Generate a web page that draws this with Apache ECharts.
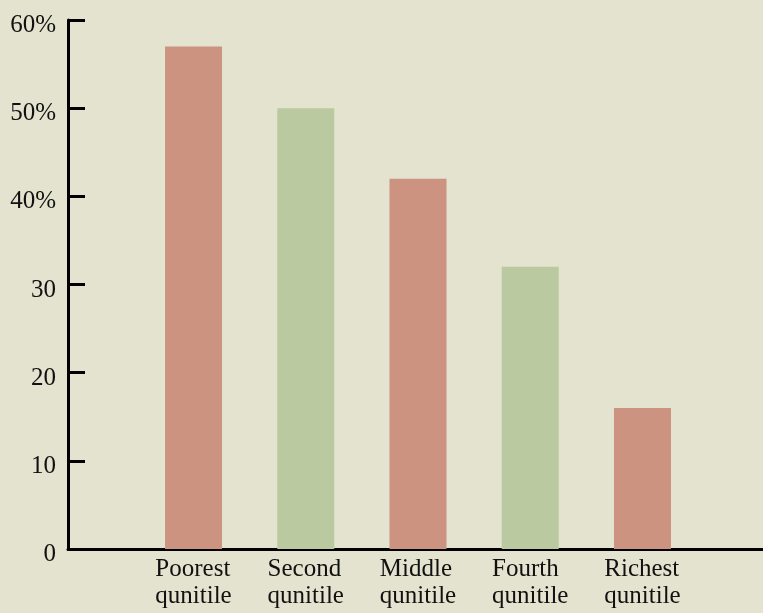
<!DOCTYPE html>
<html>
<head>
<meta charset="utf-8">
<script src="https://cdn.jsdelivr.net/npm/echarts@6/dist/echarts.min.js"></script>
<style>
  html, body { margin: 0; padding: 0; background: #e3e3cf; }
  #chart { width: 763px; height: 613px; }
</style>
</head>
<body>
<div id="chart"></div>
<script>
// Share of households by wealth quintile
const categories = ['Poorest\nqunitile', 'Second\nqunitile', 'Middle\nqunitile', 'Fourth\nqunitile', 'Richest\nqunitile'];
const values = [57, 50, 42, 32, 16];
const barColors = ['#cc9381', '#bac9a0', '#cc9381', '#bac9a0', '#cc9381'];
const yTickValues = [0, 10, 20, 30, 40, 50, 60];
const yTickLabels = ['0', '10', '20', '30', '40%', '50%', '60%'];

const FONT = '"Liberation Serif", "DejaVu Serif", serif';

const chart = echarts.init(document.getElementById('chart'));
chart.setOption({
  backgroundColor: '#e3e3cf',
  animation: false,
  grid: [
    { left: 137.4, right: 64.4, top: 20, bottom: 64 },
    { left: 68, right: 0, top: 20, bottom: 64 }
  ],
  xAxis: [
    {
      type: 'category',
      gridIndex: 0,
      data: categories,
      axisLine: { show: false },
      axisTick: { show: false },
      axisLabel: {
        interval: 0,
        margin: 7,
        formatter: function (v) {
          return v.split('\n').map(function (s) { return '{a|' + s + '}'; }).join('\n');
        },
        rich: {
          a: { fontFamily: FONT, fontSize: 25, lineHeight: 27, color: '#111', align: 'left' }
        }
      }
    },
    {
      type: 'value',
      gridIndex: 1,
      min: 0, max: 1,
      axisLine: { show: true, onZero: false, lineStyle: { color: '#000', width: 3 } },
      axisTick: { show: false },
      axisLabel: { show: false },
      splitLine: { show: false }
    }
  ],
  yAxis: [
    {
      type: 'value',
      gridIndex: 0,
      min: 0, max: 60, interval: 10,
      show: false,
      splitLine: { show: false }
    },
    {
      type: 'value',
      gridIndex: 1,
      min: 0, max: 60, interval: 10,
      axisLine: { show: true, lineStyle: { color: '#000', width: 3 } },
      axisTick: { show: true, inside: true, length: 17, lineStyle: { color: '#000', width: 3 } },
      splitLine: { show: false },
      axisLabel: {
        margin: 12,
        formatter: function (v) {
          const i = yTickValues.indexOf(v);
          return i >= 0 ? '{y|' + yTickLabels[i] + '}' : '';
        },
        rich: {
          y: { fontFamily: FONT, fontSize: 25, color: '#111', padding: [11, 0, 0, 0] }
        }
      }
    }
  ],
  series: [
    {
      type: 'bar',
      xAxisIndex: 0,
      yAxisIndex: 0,
      barWidth: 57,
      data: values.map(function (v, i) {
        return { value: v, itemStyle: { color: barColors[i] } };
      })
    }
  ]
});
</script>
</body>
</html>
